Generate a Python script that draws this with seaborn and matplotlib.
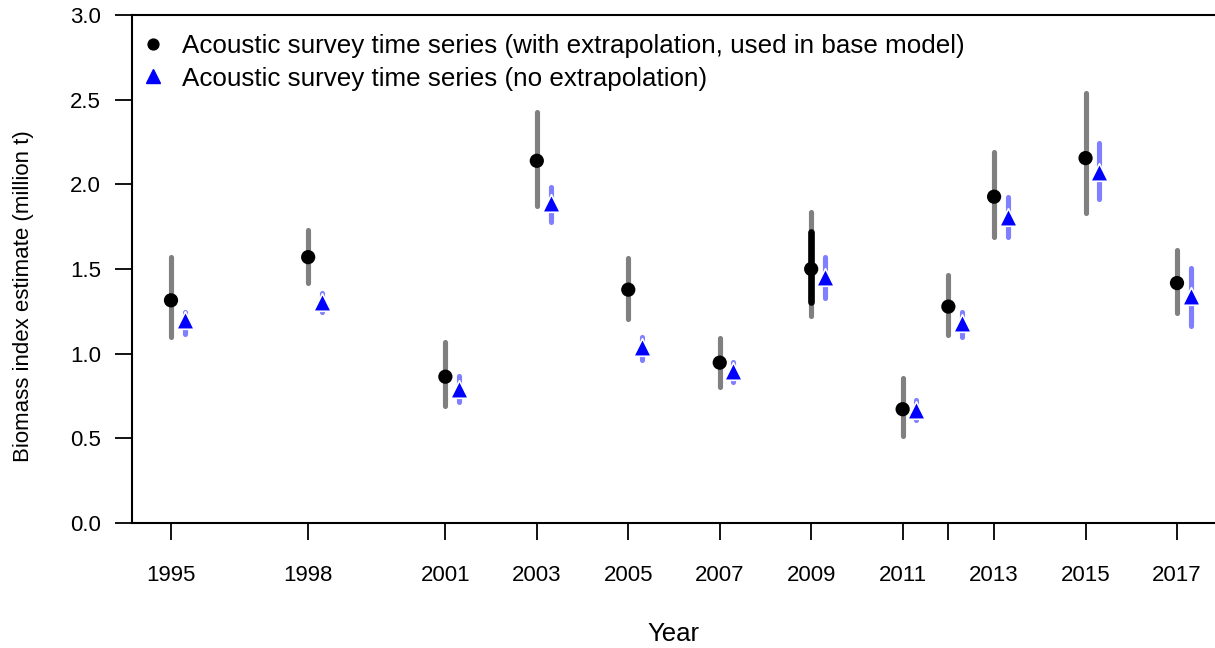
import matplotlib
matplotlib.use("Agg")
import matplotlib.pyplot as plt
from matplotlib.lines import Line2D
import seaborn as sns
import pandas as pd
import numpy as np

# ---- data ----
years = [1995, 1998, 2001, 2003, 2005, 2007, 2009, 2011, 2012, 2013, 2015, 2017]
ext_est = [1.315, 1.57, 0.864, 2.139, 1.378, 0.947, 1.50, 0.672, 1.278, 1.927, 2.155, 1.417]
ext_lo = [1.10, 1.417, 0.693, 1.873, 1.206, 0.805, 1.223, 0.516, 1.11, 1.69, 1.833, 1.243]
ext_hi = [1.57, 1.73, 1.07, 2.43, 1.567, 1.095, 1.837, 0.856, 1.465, 2.19, 2.54, 1.61]
noext_est = [1.196, 1.308, 0.793, 1.889, 1.04, 0.90, 1.455, 0.67, 1.18, 1.81, 2.075, 1.338]
noext_lo = [1.116, 1.245, 0.716, 1.78, 0.965, 0.834, 1.33, 0.61, 1.097, 1.69, 1.915, 1.165]
noext_hi = [1.249, 1.358, 0.87, 1.987, 1.10, 0.953, 1.57, 0.727, 1.248, 1.925, 2.245, 1.505]
inner_year = [2009]
inner_lo = [1.307]
inner_hi = [1.72]
xtick_years = [1995, 1998, 2001, 2003, 2005, 2007, 2009, 2011, 2012, 2013, 2015, 2017]
xtick_labels = ["1995", "1998", "2001", "2003", "2005", "2007", "2009", "2011", "", "2013", "2015", "2017"]
ytick_vals = [0.0, 0.5, 1.0, 1.5, 2.0, 2.5, 3.0]
ytick_labels = ["0.0", "0.5", "1.0", "1.5", "2.0", "2.5", "3.0"]
label_ext = "Acoustic survey time series (with extrapolation, used in base model)"
label_noext = "Acoustic survey time series (no extrapolation)"
offset = 0.3

sns.set_style("ticks")
plt.rcParams["font.family"] = ["Liberation Sans", "DejaVu Sans"]
plt.rcParams["text.color"] = "black"
plt.rcParams["axes.labelcolor"] = "black"
plt.rcParams["xtick.color"] = "black"
plt.rcParams["ytick.color"] = "black"

W, H = 1215, 648
fig = plt.figure(figsize=(W / 100, H / 100), dpi=100)
left_px, right_px, top_px, bot_px = 132, 1215, 15, 523
ax = fig.add_axes([left_px / W, 1 - bot_px / H, (right_px - left_px) / W, (bot_px - top_px) / H])

df_ext = pd.DataFrame({"year": years, "est": ext_est, "lo": ext_lo, "hi": ext_hi})
df_no = pd.DataFrame({"year": np.array(years) + offset, "est": noext_est, "lo": noext_lo, "hi": noext_hi})

ax.vlines(df_ext["year"], df_ext["lo"], df_ext["hi"], color="#808080", lw=3.7, capstyle="round", zorder=2)
ax.vlines(inner_year, inner_lo, inner_hi, color="black", lw=4.8, capstyle="round", zorder=3)
ax.vlines(df_no["year"], df_no["lo"], df_no["hi"], color="#8080ff", lw=3.7, capstyle="round", zorder=2)

sns.scatterplot(data=df_ext, x="year", y="est", ax=ax, color="black", marker="o", s=105,
                edgecolor="none", zorder=5, legend=False)
sns.scatterplot(data=df_no, x="year", y="est", ax=ax, color="#0000ff", marker="^", s=160,
                edgecolor="white", linewidth=1.2, zorder=5, legend=False)

ax.set_xlim(1995 - 39 / 45.73, 2017 + 38 / 45.73)
ax.set_ylim(0, 3.0)
ax.set_xticks(xtick_years)
ax.set_xticklabels(xtick_labels)
ax.set_yticks(ytick_vals)
ax.set_yticklabels(ytick_labels)

for s in ["left", "top", "bottom"]:
    ax.spines[s].set_linewidth(1.5)
    ax.spines[s].set_color("black")
ax.spines["right"].set_visible(False)

ax.tick_params(axis="both", direction="out", length=12.2, width=1.3, color="black",
               labelsize=16, labelcolor="black")
ax.tick_params(axis="x", pad=18)
ax.tick_params(axis="y", pad=10)

ax.set_xlabel("Year", fontsize=18.5, color="black")
ax.xaxis.set_label_coords(0.5, (523 - 634) / 508)
ax.xaxis.label.set_va("center")
ax.set_ylabel("Biomass index estimate (million t)", fontsize=16, color="black")
ax.yaxis.set_label_coords((24 - 132) / 1083, (523 - 296) / 508)
ax.yaxis.label.set_va("center")

handles = [
    Line2D([], [], marker="o", color="black", ls="none", markersize=7.8),
    Line2D([], [], marker="^", color="#0000ff", ls="none", markersize=9.5),
]
leg = ax.legend(handles, [label_ext, label_noext], loc="upper left",
                bbox_to_anchor=((140 - 132) / 1083, (523 - 34) / 508), frameon=False,
                fontsize=18.7, handlelength=1.0, handletextpad=0.6, labelspacing=0.33,
                borderaxespad=0, borderpad=0)
for t in leg.get_texts():
    t.set_color("black")

fig.savefig("out.png", dpi=100)
